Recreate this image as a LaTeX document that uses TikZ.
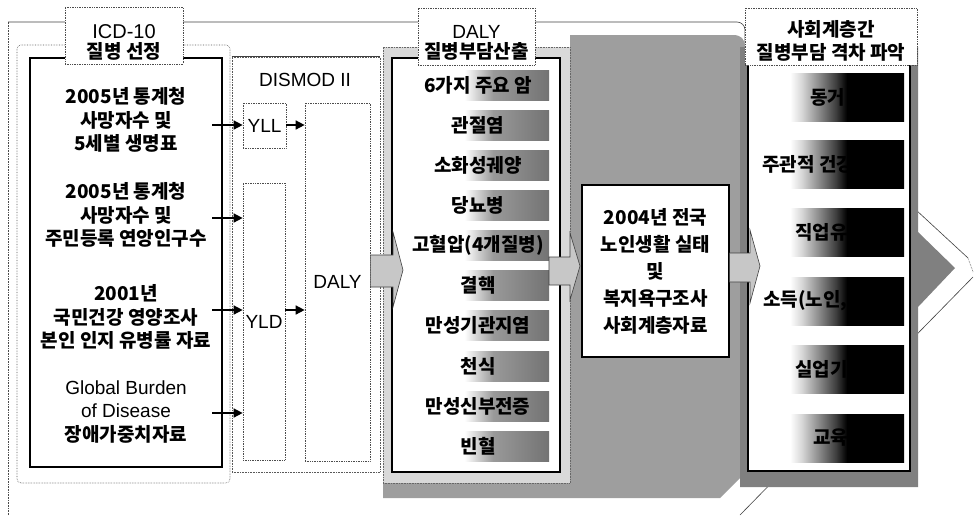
\documentclass[tikz,border=0pt]{standalone}
\usepackage{fontspec}
\setmainfont{Liberation Sans}
\newfontfamily\kr{Noto Sans CJK KR}
\usetikzlibrary{arrows.meta}
\pgfdeclarehorizontalshading{dbar}{100bp}{color(0bp)=(white); color(25bp)=(white); color(34bp)=(white); color(48bp)=(black!40); color(75bp)=(black!55); color(100bp)=(black!55)}
\pgfdeclarehorizontalshading{rbar}{100bp}{color(0bp)=(white); color(25bp)=(white); color(30bp)=(black!15); color(45bp)=(black!75); color(50bp)=(black); color(100bp)=(black)}
\begin{document}
\begin{tikzpicture}[x=1pt,y=-1pt,
  kt/.style={font={\kr\bfseries\fontsize{19}{23.5}\selectfont}, align=center, inner sep=0pt},
  lt/.style={font={\fontsize{19}{23}\selectfont}, align=center, inner sep=0pt},
  frm/.style={draw=black!65, densely dotted, line width=0.6pt},
  sbox/.style={draw=black, line width=1.2pt, fill=white},
  dbox/.style={draw=black!70, densely dotted, line width=0.7pt, inner sep=0pt},
  lblbox/.style={draw=black!70, densely dotted, line width=0.7pt, fill=white, inner sep=0pt},
  arr/.style={-{Triangle[length=9pt,width=9pt]}, line width=1.6pt},
  blk/.style={draw=black!75, line width=0.6pt, fill=black!22},
  outl/.style={draw=black!75, line width=0.6pt}
]
\useasboundingbox (0,0) rectangle (974,515);

% big outer arrow outline
\draw[black!70, densely dotted, line width=0.6pt] (8,515) -- (8,22);
\draw[outl, rounded corners=8pt] (8,22) -- (745,22) -- (745,52);
\draw[outl] (745,52) -- (968,258);
\draw[outl, densely dotted] (968,258) -- (973,272);
\draw[outl] (973,277) -- (740,515);

% textured middle background
\fill[black!38] (383,47) -- (570,47) -- (570,35) -- (733,35) .. controls (741,35) and (745,39) .. (745,47) -- (745,473) -- (720,498) -- (383,498) -- cycle;

% left column
\draw[frm, rounded corners=4pt] (17,45) rectangle (230,483);
\node[sbox, minimum width=192pt, minimum height=409pt] (src) at (126,262.5) {};
\node[kt] (t1) at (126,120) {2005년 통계청\\사망자수 및\\5세별 생명표};
\node[kt] (t2) at (126,215) {2005년 통계청\\사망자수 및\\주민등록 연앙인구수};
\node[kt] (t3) at (126,317) {2001년\\국민건강 영양조사\\본인 인지 유병률 자료};
\node[lt, font={\fontsize{19}{23.5}\selectfont}] (t4) at (126,412) {Global Burden\\of Disease\\{\kr\bfseries 장애가중치자료}};

% DISMOD frame
\node[frm, minimum width=148pt, minimum height=415pt] (dismod) at (306,264.5) {};
\draw[outl] (dismod.north west) -- (dismod.north east);
\node[lt] (dmlabel) at (305,80) {DISMOD II};
\node[dbox, lt, minimum width=43pt, minimum height=45pt] (yll) at (264.5,125.5) {YLL};
\node[dbox, lt, minimum width=42pt, minimum height=277pt] (yld) at (264,321.5) {YLD};
\node[dbox, lt, minimum width=65pt, minimum height=358pt] (daly) at (337.5,282) {DALY};

\coordinate (s1) at (212,125);
\coordinate (s2) at (212,218);
\coordinate (s3) at (212,310);
\coordinate (s4) at (212,413);
\draw[arr] (s1) -- (s1 -| yll.west);
\draw[arr] (yll.east |- s1) -- (s1 -| daly.west);
\draw[arr] (s2) -- (s2 -| yld.west);
\draw[arr] (s3) -- (s3 -| yld.west);
\draw[arr] (s4) -- (s4 -| yld.west);
\draw[arr] (yld.east |- s3) -- (s3 -| daly.west);

% DALY column
\node[draw=black!60, densely dotted, line width=0.6pt, fill=black!15, minimum width=187pt, minimum height=436pt] (dcolf) at (476.5,265) {};
\node[sbox, minimum width=168pt, minimum height=414pt] (dcol) at (476,265) {};
\foreach \y/\t [count=\i] in {85/6가지 주요 암, 125/관절염, 165/소화성궤양, 205/당뇨병, 245/고혈압(4개질병), 285/결핵, 325/만성기관지염, 366/천식, 406/만성신부전증, 446/빈혈} {
  \shade[shading=dbar] (446,\y-15) rectangle (549,\y+15);
  \node[kt] (dz\i) at (478,\y) {\t};
}

% middle box
\node[sbox, kt, font={\kr\bfseries\fontsize{19}{27}\selectfont}, minimum width=147pt, minimum height=172pt] (mid) at (655.5,271) {2004년 전국\\노인생활 실태\\및\\복지욕구조사\\사회계층자료};

% right column
\fill[black!50] (740,47) -- (918,47) -- (918,232) -- (955,268) -- (918,307) -- (918,487) -- (740,487) -- cycle;
\node[sbox, minimum width=162pt, minimum height=411pt] (rcol) at (829,265.5) {};
\foreach \y/\x/\t [count=\i] in {97/810/동거, 164/762/주관적 건강, 232/795/직업유무, 301/763/{소득(노인, 가구)}, 369/795/실업기간, 438/813/교육} {
  \shade[shading=rbar] (790,\y-24) rectangle (904,\y+24);
  \node[kt, anchor=west] (rz\i) at (\x,\y) {\t};
}

% block arrows
\draw[blk] (daly.east |- 0,255) -- (393,255) -- (393,232) -- (403,270) -- (393,307) -- (393,287) -- (daly.east |- 0,287) -- cycle;
\draw[blk] (549,257) -- (570,257) -- (570,233) -- (580,266) -- (570,300) -- (570,285) -- (549,285) -- cycle;
\draw[blk] (mid.east |- 0,253) -- (750,253) -- (750,230) -- (760,266) -- (750,303) -- (750,282) -- (mid.east |- 0,282) -- cycle;

% label boxes
\node[lblbox, minimum width=118pt, minimum height=57pt] (icd) at (124,35.5) {};
\node[lt, font={\fontsize{20}{23}\selectfont}] (icdA) at (124,32) {ICD-10};
\node[kt] (icdB) at (124,51.5) {질병 선정};
\node[lblbox, minimum width=117pt, minimum height=57pt] (dlab) at (476.5,36.5) {};
\node[lt] (dlabA) at (476.5,32) {DALY};
\node[kt] (dlabB) at (476.5,51.5) {질병부담산출};
\node[lblbox, minimum width=172pt, minimum height=57pt] (rlab) at (831,36.5) {};
\node[kt] (rlabA) at (831,29.5) {사회계층간};
\node[kt] (rlabB) at (831,52) {질병부담 격차 파악};
\end{tikzpicture}
\end{document}
